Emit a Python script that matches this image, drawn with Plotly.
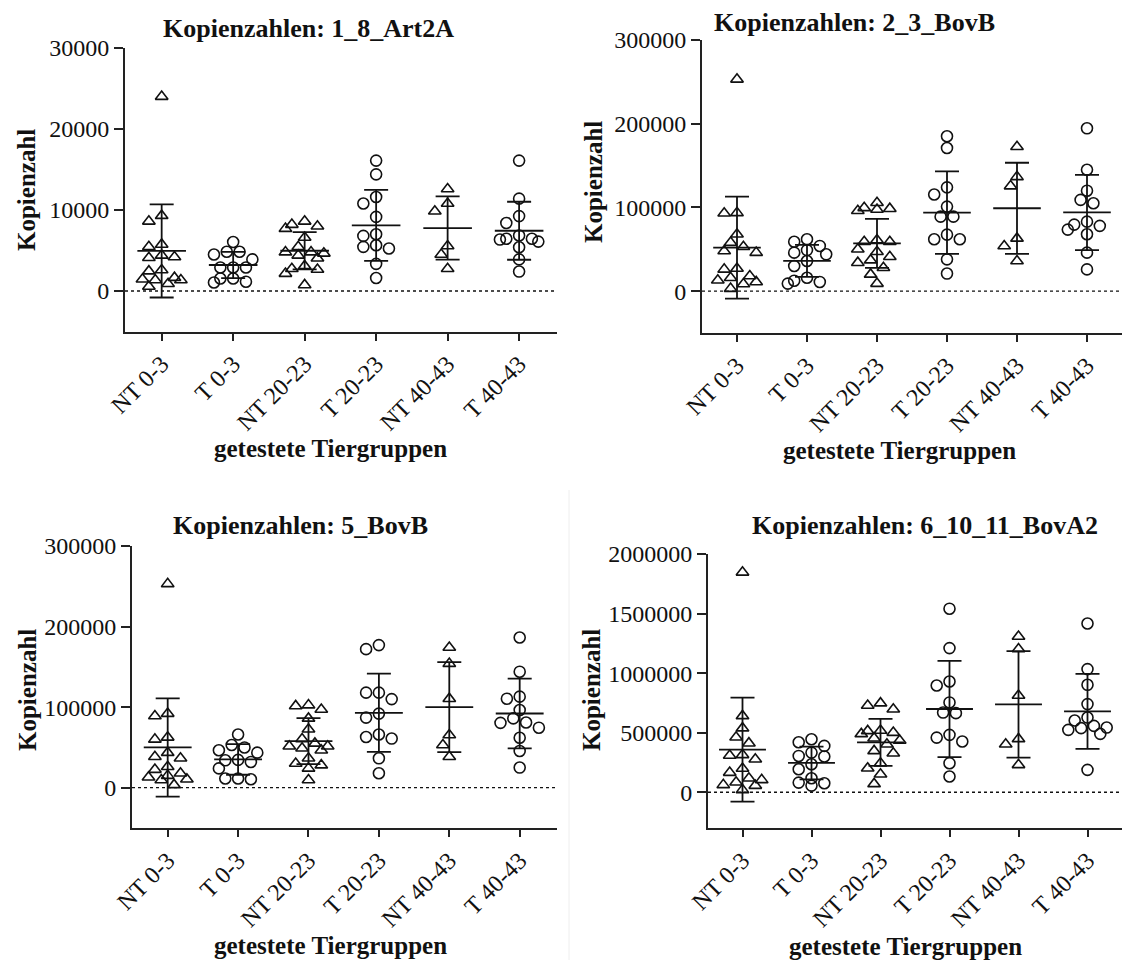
import plotly.graph_objects as go

W, H = 1129, 960
categories = ["NT 0-3", "T 0-3", "NT 20-23", "T 20-23", "NT 40-43", "T 40-43"]
group_kind = ["NT", "T", "NT", "T", "NT", "T"]

# ---- Panel 1: 1_8_Art2A
p1_nt03 = [24000, 9300, 8600, 5750, 5450, 4400, 4200, 4100, 2600, 2450, 1450, 1350, 1350, 1650, 900, 550]
p1_t03 = [6050, 4850, 4500, 4850, 3900, 2900, 2900, 2900, 1550, 1550, 1050, 1150]
p1_nt2023 = [8600, 8200, 7700, 8000, 6600, 5450, 4800, 4800, 4650, 4400, 4050, 2750, 2650, 3100, 2150, 750]
p1_t2023 = [16100, 14400, 11600, 10800, 9150, 7000, 6800, 5650, 5250, 5450, 3350, 1600]
p1_nt4043 = [12600, 10800, 9850, 5550, 4500, 2750]
p1_t4043 = [16100, 11400, 9250, 8400, 6850, 6100, 6450, 6450, 6350, 5400, 3900, 2400]
p1_mean = [4950, 3210, 4970, 8100, 7770, 7440]
p1_sd = [5750, 1630, 2300, 4380, 3900, 3580]

# ---- Panel 2: 2_3_BovB
p2_nt03 = [253000, 93000, 93500, 68000, 58000, 48000, 53000, 46000, 27000, 26000, 16000, 11000, 13000, 18000, 8500, 3000]
p2_t03 = [62000, 59000, 54000, 49000, 46000, 44000, 36000, 30000, 16000, 12500, 11000, 9000]
p2_nt2023 = [105500, 99500, 98500, 97500, 96000, 61000, 59000, 59000, 50000, 47000, 41000, 37000, 34000, 28000, 20000, 9000]
p2_t2023 = [185000, 171000, 124000, 115500, 101000, 89000, 89000, 67500, 62000, 62000, 38000, 21000]
p2_nt4043 = [172500, 136500, 125500, 63000, 54000, 36000]
p2_t4043 = [194500, 145000, 120000, 109000, 105000, 83000, 78000, 79500, 73500, 68000, 46000, 26000]
p2_mean = [52000, 36200, 57100, 93800, 99000, 94000]
p2_sd = [60950, 19150, 29250, 49200, 54400, 45000]

# ---- Panel 3: 5_BovB
p3_nt03 = [253000, 89000, 92000, 62500, 60000, 43500, 38500, 36500, 26000, 22500, 18000, 15000, 10500, 13000, 9500, 3500]
p3_t03 = [66000, 53000, 50000, 46500, 43500, 34500, 32000, 34000, 24000, 11500, 10500, 11500]
p3_nt2023 = [102500, 97000, 101500, 86000, 72500, 60500, 51500, 51500, 55000, 49000, 46500, 36500, 30000, 28000, 24000, 9500]
p3_t2023 = [177000, 172000, 118000, 118000, 110000, 92000, 87000, 66000, 61000, 63000, 36500, 18000]
p3_nt4043 = [174000, 154000, 110500, 65500, 53000, 38500]
p3_t4043 = [186500, 144000, 113000, 110500, 96500, 81000, 80500, 86000, 74500, 62000, 45500, 25000]
p3_mean = [50000, 35100, 57800, 93000, 100000, 92100]
p3_sd = [60950, 19000, 28500, 48550, 55800, 43350]

# ---- Panel 4: 6_10_11_BovA2
p4_nt03 = [1846000, 641000, 538000, 462000, 412000, 314000, 308000, 277000, 199000, 165000, 104000, 118000, 62000, 84000, 56000, 20000]
p4_t03 = [445000, 420000, 389000, 333000, 300000, 305000, 235000, 193000, 118000, 81000, 56000, 76000]
p4_nt2023 = [748000, 728000, 697000, 518000, 515000, 501000, 490000, 454000, 434000, 403000, 347000, 328000, 244000, 202000, 151000, 70000]
p4_t2023 = [1541000, 1210000, 930000, 896000, 754000, 669000, 664000, 482000, 459000, 426000, 244000, 132000]
p4_nt4043 = [1308000, 1202000, 812000, 448000, 403000, 230000]
p4_t4043 = [1417000, 1034000, 902000, 740000, 627000, 602000, 524000, 543000, 557000, 538000, 490000, 188000]
p4_mean = [358000, 246000, 419000, 699000, 738000, 679000]
p4_sd = [437000, 137000, 197500, 404700, 446700, 315000]

titles = ["Kopienzahlen: 1_8_Art2A", "Kopienzahlen: 2_3_BovB",
          "Kopienzahlen: 5_BovB", "Kopienzahlen: 6_10_11_BovA2"]
y_title = "Kopienzahl"
x_title = "getestete Tiergruppen"
y_ticks = [[0, 10000, 20000, 30000],
           [0, 100000, 200000, 300000],
           [0, 100000, 200000, 300000],
           [0, 500000, 1000000, 1500000, 2000000]]

panels = [
    dict(groups=[p1_nt03, p1_t03, p1_nt2023, p1_t2023, p1_nt4043, p1_t4043], mean=p1_mean, sd=p1_sd,
         box=(125, 557, 48, 331.5), yr=[-5000, 30000], xr=[-0.513, 5.53],
         title=(308, 28), ytit=(27, 190), xtit=(330, 448)),
    dict(groups=[p2_nt03, p2_t03, p2_nt2023, p2_t2023, p2_nt4043, p2_t4043], mean=p2_mean, sd=p2_sd,
         box=(702, 1122, 40, 333), yr=[-50000, 300000], xr=[-0.5, 5.5],
         title=(854, 23), ytit=(593, 182), xtit=(900, 451)),
    dict(groups=[p3_nt03, p3_t03, p3_nt2023, p3_t2023, p3_nt4043, p3_t4043], mean=p3_mean, sd=p3_sd,
         box=(132, 557, 546, 828), yr=[-50000, 300000], xr=[-0.507, 5.53],
         title=(300, 525), ytit=(27, 690), xtit=(330, 945)),
    dict(groups=[p4_nt03, p4_t03, p4_nt2023, p4_t2023, p4_nt4043, p4_t4043], mean=p4_mean, sd=p4_sd,
         box=(708, 1122, 554, 828), yr=[-300000, 2000000], xr=[-0.5, 5.5],
         title=(925, 525), ytit=(591, 690), xtit=(905, 946)),
]

FONT = "Liberation Serif"
INK = "#111111"


def swarm(vals, ppu_y, ppu_x, step=6.4, diam=10.5, maxk=3):
    order = sorted(range(len(vals)), key=lambda k: -vals[k])
    placed = []
    offs = [0.0] * len(vals)
    cands = [0]
    for m in range(1, maxk + 1):
        cands += [-m, m]
    for k in order:
        yp = vals[k] * ppu_y
        best, bestd = None, -1
        for c in cands:
            xo = c * step
            d = min([((xo - px) ** 2 + (yp - py) ** 2) ** 0.5 for px, py in placed] or [1e9])
            if d >= diam:
                best = xo
                break
            if d > bestd:
                best, bestd = xo, d
        placed.append((best, yp))
        offs[k] = best / ppu_x
    return offs


fig = go.Figure()
layout = dict(width=W, height=H, margin=dict(l=0, r=0, t=0, b=0, autoexpand=False),
              paper_bgcolor="white", plot_bgcolor="white", showlegend=False)
annotations = []
shapes = []

for pi, p in enumerate(panels):
    n = pi + 1
    xa = "xaxis" if n == 1 else f"xaxis{n}"
    ya = "yaxis" if n == 1 else f"yaxis{n}"
    xref = "x" if n == 1 else f"x{n}"
    yref = "y" if n == 1 else f"y{n}"
    x0, x1, top, bot = p["box"]
    ppu_y = (bot - top) / (p["yr"][1] - p["yr"][0])
    ppu_x = (x1 - x0) / (p["xr"][1] - p["xr"][0])

    for gi, vals in enumerate(p["groups"]):
        offs = swarm(vals, ppu_y, ppu_x)
        sym = "triangle-up-open" if group_kind[gi] == "NT" else "circle-open"
        fig.add_trace(go.Scatter(
            x=[gi + o for o in offs], y=vals, mode="markers", xaxis=xref, yaxis=yref,
            marker=dict(symbol=sym, size=11, color=INK, line=dict(color=INK, width=1.6)),
            hoverinfo="skip"))

    # mean lines
    mx, my = [], []
    for gi, m in enumerate(p["mean"]):
        mx += [gi - 0.34, gi + 0.34, None]
        my += [m, m, None]
    fig.add_trace(go.Scatter(x=mx, y=my, mode="lines", xaxis=xref, yaxis=yref,
                             line=dict(color=INK, width=1.8), hoverinfo="skip"))
    # SD error bars
    fig.add_trace(go.Scatter(
        x=list(range(len(categories))), y=p["mean"], mode="markers", xaxis=xref, yaxis=yref,
        marker=dict(size=1, color="rgba(0,0,0,0)"),
        error_y=dict(type="data", array=p["sd"], symmetric=True, color=INK, thickness=1.8, width=12),
        hoverinfo="skip"))

    layout[xa] = dict(domain=[x0 / W, x1 / W], anchor=yref, range=p["xr"], automargin=False,
                      tickmode="array", tickvals=list(range(len(categories))), ticktext=categories,
                      tickangle=-45, ticks="outside", ticklen=7, tickwidth=2, tickcolor="#222",
                      showline=True, linecolor="#222", linewidth=2, showgrid=False, zeroline=False,
                      tickfont=dict(family=FONT, size=24, color=INK))
    layout[ya] = dict(domain=[1 - bot / H, 1 - top / H], anchor=xref, range=p["yr"], automargin=False,
                      tickmode="array", tickvals=y_ticks[pi], tickformat="d",
                      ticks="outside", ticklen=9, tickwidth=2, tickcolor="#222",
                      showline=True, linecolor="#222", linewidth=2, showgrid=False, zeroline=False,
                      tickfont=dict(family=FONT, size=24, color=INK))

    shapes.append(dict(type="line", xref=f"{xref} domain", yref=yref, x0=0, x1=1, y0=0, y1=0,
                       line=dict(color=INK, width=1.3, dash="dot")))

    tx, ty = p["title"]
    annotations.append(dict(text=f"<b>{titles[pi]}</b>", x=tx / W, y=1 - ty / H, xref="paper", yref="paper",
                            showarrow=False, xanchor="center", yanchor="middle",
                            font=dict(family=FONT, size=26, color=INK)))
    yx, yy = p["ytit"]
    annotations.append(dict(text=f"<b>{y_title}</b>", x=yx / W, y=1 - yy / H, xref="paper", yref="paper",
                            showarrow=False, xanchor="center", yanchor="middle", textangle=-90,
                            font=dict(family=FONT, size=25, color=INK)))
    xx, xy = p["xtit"]
    annotations.append(dict(text=f"<b>{x_title}</b>", x=xx / W, y=1 - xy / H, xref="paper", yref="paper",
                            showarrow=False, xanchor="center", yanchor="middle",
                            font=dict(family=FONT, size=25, color=INK)))

# faint separator between the lower panels
shapes.append(dict(type="line", xref="paper", yref="paper", x0=569 / W, x1=569 / W, y0=0, y1=1 - 490 / H,
                   line=dict(color="#eeeeee", width=1)))

layout["annotations"] = annotations
layout["shapes"] = shapes
fig.update_layout(**layout)
fig.write_html("out.html")
